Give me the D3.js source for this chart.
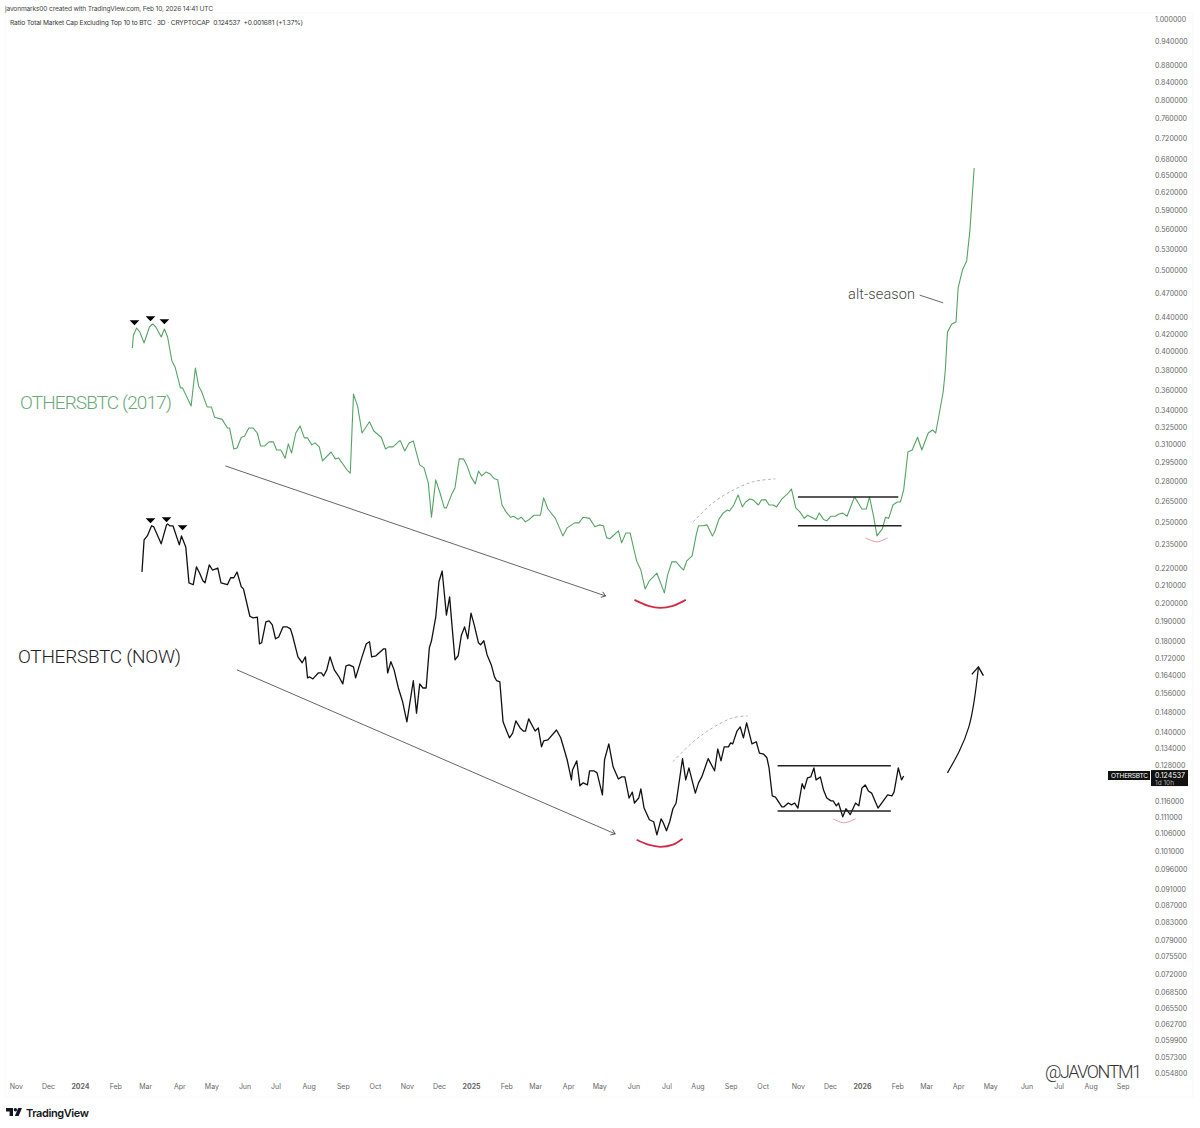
<!DOCTYPE html>
<html><head><meta charset="utf-8">
<script src="https://cdnjs.cloudflare.com/ajax/libs/d3/7.9.0/d3.min.js"></script>
<style>html,body{margin:0;padding:0;background:#fff}svg{display:block}</style>
</head><body><svg id="c" width="1200" height="1128"></svg>
<script>
const greenDays=[49,50,53,56,60,65,68,71,76,79,82,86,89,94,96,104,108,111,114,119,123,126,133,138,140,144,147,151,154,158,162,166,169,173,177,181,184,188,192,195,198,202,206,210,213,217,220,224,227,235,239,242,250,253,256,260,264,271,275,282,286,289,293,299,300,304,308,312,315,318,322,326,329,333,337,341,343,348,351,355,359,362,366,370,373,376,380,384,388,391,395,399,403,406,410,413,417,420,425,431,434,438,445,452,456,463,467,471,477,482,486,490,493,496,504,507,511,515,521,525,529,533,540,547,550,554,558,562,565,568,573,577,579,583,587,592,594,598,602,606,608,612,616,620,623,627,630,635,638,642,645,649,652,657,662,666,670,674,678,681,689,692,696,699,703,707,710,714,718,725,732,736,739,743,746,751,754,757,761,765,768,771,775,779,784,788,794,798,801,808,810,812,816,820,822,826,830,833,837];
const greenValues=[.4039,.4184,.4268,.4220,.4096,.4280,.4316,.4280,.4164,.4256,.4164,.3898,.3834,.3619,.3619,.3443,.3823,.3639,.3578,.3434,.3434,.3337,.3318,.3241,.3241,.3058,.3067,.3159,.3168,.3241,.3241,.3196,.3084,.3084,.3119,.3119,.3050,.3050,.2981,.3102,.3024,.3196,.3259,.3153,.3153,.3093,.3110,.3076,.2960,.3033,.2976,.2984,.2886,.2862,.3558,.3434,.3196,.3296,.3214,.3159,.3058,.3076,.3076,.3127,.3127,.3041,.3110,.3127,.3024,.2927,.2903,.2786,.2534,.2809,.2709,.2600,.2600,.2701,.2747,.2976,.2976,.2927,.2832,.2778,.2878,.2840,.2870,.2854,.2817,.2809,.2621,.2570,.2534,.2541,.2519,.2534,.2502,.2516,.2548,.2548,.2673,.2592,.2526,.2407,.2461,.2495,.2495,.2534,.2526,.2468,.2481,.2475,.2394,.2388,.2440,.2361,.2426,.2426,.2247,.2191,.2080,.2127,.2172,.2057,.2160,.2241,.2241,.2210,.2191,.2247,.2278,.2420,.2475,.2475,.2481,.2407,.2433,.2519,.2563,.2585,.2578,.2621,.2695,.2607,.2643,.2665,.2658,.2621,.2658,.2658,.2621,.2621,.2607,.2665,.2701,.2739,.2600,.2570,.2526,.2548,.2519,.2563,.2519,.2509,.2541,.2541,.2555,.2563,.2541,.2680,.2592,.2592,.2680,.2534,.2407,.2454,.2534,.2526,.2621,.2643,.2643,.2732,.3033,.3050,.3159,.3050,.3196,.3223,.3196,.3578,.3802,.4220,.4316,.4340,.4766,.5007,.5135,.5590,.6632];
const blackDays=[58,60,63,67,69,76,81,82,84,87,93,95,99,102,106,109,112,115,117,121,124,129,132,138,141,144,147,151,153,159,162,166,168,170,174,177,180,183,186,190,194,197,199,204,208,211,213,215,218,223,226,228,231,234,238,242,246,249,252,256,258,264,268,271,273,277,284,286,288,291,294,298,302,306,312,315,318,321,324,327,329,333,336,339,343,346,348,351,354,357,360,363,366,369,373,375,378,381,385,388,390,393,396,399,402,405,408,412,415,417,420,426,429,432,434,438,446,450,456,460,461,465,468,471,475,477,481,484,489,491,495,499,504,507,510,514,517,519,523,525,528,533,537,540,544,546,549,552,555,558,564,567,570,576,579,582,588,594,597,600,603,607,609,611,615,618,621,624,629,633,636,640,643,645,648,651,657,659,663,666,669,672,676,678,681,684,687,689,693,696,699,703,705,708,710,714,717,721,726,729,732,735,738,741,747,756,760,762,766,769,771];
const blackValues=[.2179,.2381,.2407,.2475,.2468,.2355,.2481,.2488,.2475,.2475,.2348,.2407,.2335,.2115,.2104,.2210,.2172,.2127,.2115,.2222,.2191,.2203,.2115,.2104,.2145,.2145,.2179,.2092,.2080,.1929,.1920,.1924,.1788,.1793,.1899,.1905,.1884,.1813,.1822,.1873,.1873,.1863,.1828,.1725,.1697,.1725,.1628,.1632,.1623,.1650,.1650,.1636,.1664,.1725,.1664,.1636,.1601,.1683,.1687,.1678,.1628,.1725,.1788,.1798,.1725,.1730,.1763,.1763,.1650,.1702,.1664,.1583,.1524,.1442,.1615,.1477,.1601,.1583,.1583,.1768,.1803,.1924,.2121,.2185,.1935,.2035,.1894,.1711,.1730,.1831,.1873,.1813,.1946,.1884,.1793,.1783,.1803,.1735,.1687,.1632,.1615,.1610,.1442,.1410,.1380,.1398,.1446,.1418,.1406,.1406,.1454,.1406,.1418,.1346,.1368,.1372,.1410,.1380,.1299,.1229,.1263,.1295,.1209,.1219,.1212,.1260,.1260,.1253,.1179,.1299,.1357,.1274,.1232,.1239,.1239,.1169,.1188,.1153,.1169,.1199,.1137,.1101,.1095,.1056,.1104,.1092,.1068,.1095,.1135,.1153,.1303,.1229,.1270,.1185,.1219,.1239,.1303,.1260,.1338,.1295,.1346,.1346,.1361,.1357,.1406,.1422,.1380,.1438,.1357,.1365,.1323,.1319,.1306,.1270,.1176,.1172,.1141,.1141,.1153,.1147,.1153,.1137,.1216,.1199,.1236,.1239,.1270,.1229,.1239,.1195,.1169,.1160,.1160,.1144,.1153,.1110,.1135,.1117,.1153,.1144,.1202,.1212,.1192,.1185,.1137,.1179,.1176,.1188,.1270,.1229,.1242];
const priceTicks=[1,.94,.88,.84,.8,.76,.72,.68,.65,.62,.59,.56,.53,.5,.47,.44,.42,.4,.38,.36,.34,.325,.31,.295,.28,.265,.25,.235,.22,.21,.2,.19,.18,.172,.164,.156,.148,.14,.134,.128,.116,.111,.106,.101,.096,.091,.087,.083,.079,.0755,.072,.0685,.0655,.0627,.0599,.0573,.0548];
const timeTickDays=[-60,-30,0,33,61,93,123,154,183,214,246,276,306,336,366,399,426,457,486,518,549,578,609,639,672,702,732,765,792,822,852,886,916,946,976];
const timeTickLabels=["Nov","Dec","2024","Feb","Mar","Apr","May","Jun","Jul","Aug","Sep","Oct","Nov","Dec","2025","Feb","Mar","Apr","May","Jun","Jul","Aug","Sep","Oct","Nov","Dec","2026","Feb","Mar","Apr","May","Jun","Jul","Aug","Sep"];
const lastPrice=0.124537;
const headerText="javonmarks00 created with TradingView.com, Feb 10, 2026 14:41 UTC";
const titleText="Ratio Total Market Cap Excluding Top 10 to BTC · 3D · CRYPTOCAP  0.124537  +0.001681 (+1.37%)";
// annotations, in [day, price]
const trendArrows=[[[136,.2919],[492,.2040]],[[147,.1664],[501,.1059]]];
const redArcs=[[[519,.2018],[532,.1985],[543,.1974],[555,.1985],[567,.2018]],[[521,.1042],[532,.1028],[543,.1022],[555,.1028],[564,.1045]]];
const pinkArcs=[[[735,.2394],[746,.2368],[756,.2394]],[[705,.1104],[715,.1092],[726,.1104]]];
const dashedArcs=[[[574,.2502],[590,.2621],[608,.2716],[630,.2794],[651,.2817]],[[555,.1292],[574,.1365],[592,.1418],[611,.1458],[625,.1466]]];
const rangeLines=[[[672,.2680],[766,.2680]],[[672,.2475],[769,.2475]],[[653,.1278],[759,.1278]],[[653,.1128],[759,.1128]]];
const upArrow=[[812,.1253],[832,.1422],[841,.1678]];
const altLeader=[[786,.4673],[808,.4574]];
const peakMarks=[[51,.4340],[66,.4388],[79,.4352],[66,.2516],[81,.2523],[96,.2468]];

const svg=d3.select("#c");
const x=d3.scaleLinear().domain([0,732]).range([80,862]);
const y=d3.scaleLog().domain([1,.0548]).range([19,1073]);
const FONT="Inter, Roboto, sans-serif", HAND="Roboto, Lato, sans-serif";
const defs=svg.append("defs");
function marker(id,size,color,w){
  defs.append("marker").attr("id",id).attr("markerUnits","userSpaceOnUse").attr("viewBox","-10 -6 12 12")
    .attr("refX",0).attr("refY",0).attr("markerWidth",size).attr("markerHeight",size).attr("orient","auto")
    .append("path").attr("d","M-7,-5L0,0L-7,5").attr("fill","none").attr("stroke",color).attr("stroke-width",w);
}
marker("a1",7,"#444",1.4);marker("a2",14,"#111",1.2);
// faint chart frame
svg.append("path").attr("d","M5,1097V13H1193V1097H5").attr("fill","none").attr("stroke","#f9f9f9");
// header
svg.append("text").attr("x",5).attr("y",10.5).attr("font-family",FONT).attr("font-size",6.6).attr("fill","#444").attr("textLength",208).text(headerText);
svg.append("text").attr("x",10).attr("y",24.5).attr("font-family",FONT).attr("font-size",6.6).attr("fill","#333").attr("textLength",293).attr("xml:space","preserve").text(titleText);
// axes
const yAxis=svg.append("g").attr("transform","translate(1152,0)").call(d3.axisRight(y).tickValues(priceTicks).tickSize(0).tickPadding(3).tickFormat(d=>d.toFixed(6)));
yAxis.select(".domain").remove();
yAxis.selectAll("text").attr("font-family",FONT).attr("font-size",7).attr("fill","#666");
const xAxis=svg.append("g").attr("transform","translate(0,1081)").call(d3.axisBottom(x).tickValues(timeTickDays).tickSize(0).tickPadding(3).tickFormat((d,i)=>timeTickLabels[i]));
xAxis.select(".domain").remove();
xAxis.selectAll("text").attr("font-family",FONT).attr("font-size",7).attr("fill","#666").attr("font-weight",(d,i)=>/^20/.test(timeTickLabels[i])?700:400);
// series
const line=d3.line().x(d=>x(d[0])).y(d=>y(d[1]));
const curve=d3.line().x(d=>x(d[0])).y(d=>y(d[1])).curve(d3.curveCatmullRom);
const natural=d3.line().x(d=>x(d[0])).y(d=>y(d[1])).curve(d3.curveNatural);
function strokePath(g,gen,data,color,w,extra){
  const p=svg.append("path").attr("d",gen(data)).attr("fill","none").attr("stroke",color).attr("stroke-width",w).attr("stroke-linejoin","round");
  if(extra)extra(p);return p;
}
strokePath(svg,line,d3.zip(greenDays,greenValues),"#55a364",1.1);
strokePath(svg,line,d3.zip(blackDays,blackValues),"#111",1.3);
// annotations
trendArrows.forEach(a=>strokePath(svg,line,a,"#555",.9,p=>p.attr("marker-end","url(#a1)")));
redArcs.forEach(a=>strokePath(svg,curve,a,"#d42a45",1.8));
pinkArcs.forEach(a=>strokePath(svg,curve,a,"#e58a98",.9));
dashedArcs.forEach(a=>strokePath(svg,curve,a,"#aaa",.9,p=>p.attr("stroke-dasharray","3,2.5")));
rangeLines.forEach(a=>strokePath(svg,line,a,"#222",1.5));
strokePath(svg,natural,upArrow,"#111",1.2,p=>p.attr("marker-end","url(#a2)"));
strokePath(svg,line,altLeader,"#555",.9);
const tri=d3.symbol().type(d3.symbolTriangle).size(26);
svg.selectAll("path.peak").data(peakMarks).join("path").attr("class","peak").attr("fill","#000")
  .attr("d",tri).attr("transform",d=>`translate(${x(d[0])},${y(d[1])}) rotate(180) scale(1.25,.75)`);
// hand labels
function label(t,xp,yp,size,color,len,weight){
  svg.append("text").attr("x",xp).attr("y",yp).attr("font-family",HAND).attr("font-weight",weight||300).attr("font-size",size).attr("fill",color).attr("textLength",len).text(t);
}
label("OTHERSBTC (2017)",20,409,19,"#6aa878",152);
label("OTHERSBTC (NOW)",18,663,19,"#222",163);
label("alt-season",848,299,14.5,"#444",67);
label("@JAVONTM1",1045,1078,18,"#333",97);
// last-price labels
svg.append("rect").attr("x",1108).attr("y",771).attr("width",42).attr("height",9).attr("fill","#111");
svg.append("rect").attr("x",1151).attr("y",y(lastPrice)-5).attr("width",37).attr("height",16).attr("fill","#111");
svg.append("text").attr("x",1111).attr("y",778).attr("font-family",FONT).attr("font-size",6.5).attr("fill","#fff").attr("textLength",37).text("OTHERSBTC");
svg.append("text").attr("x",1155).attr("y",778).attr("font-family",FONT).attr("font-size",7).attr("fill","#fff").attr("textLength",30).text(lastPrice.toFixed(6));
svg.append("text").attr("x",1155).attr("y",785).attr("font-family",FONT).attr("font-size",6.5).attr("fill","#aaa").text("1d 10h");
// logo
const logo=svg.append("g").attr("transform","translate(6,1108)").attr("fill","#131722");
logo.append("path").attr("d","M0,0H7V8H3.6V3.4H0Z");
logo.append("circle").attr("cx",9.4).attr("cy",1.7).attr("r",1.7);
logo.append("path").attr("d","M12.2,0H16L12.6,8H8.8Z");
svg.append("text").attr("x",26).attr("y",1116.5).attr("font-family",FONT).attr("font-weight",600).attr("font-size",11).attr("fill","#131722").attr("textLength",63).text("TradingView");
</script></body></html>
